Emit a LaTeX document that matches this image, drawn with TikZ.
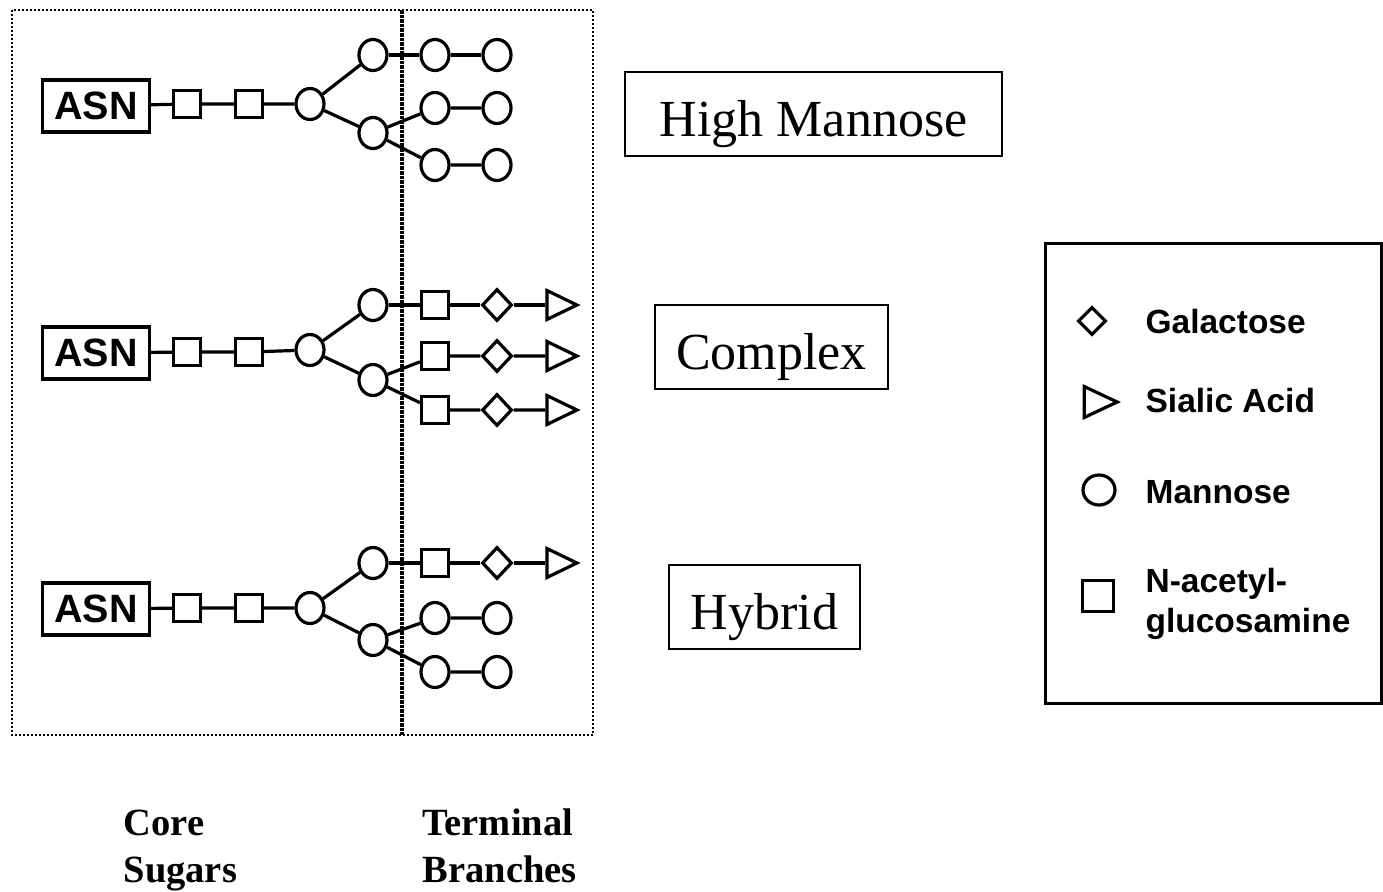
\documentclass[tikz,border=0pt]{standalone}
\usepackage{fontspec}
\setmainfont{Liberation Serif}
\newfontfamily\arialf{Liberation Sans}
\usetikzlibrary{shapes.geometric}
\begin{document}
\begin{tikzpicture}[x=1pt,y=-1pt,
  every node/.style={inner sep=0pt, line width=3.2pt},
  link/.style={line width=3.2pt},
  mann/.style={ellipse, draw, minimum width=28pt, minimum height=31pt},
  glc/.style={rectangle, draw, minimum size=27pt},
  gal/.style={diamond, draw, minimum width=30pt, minimum height=32pt},
  sia/.style={isosceles triangle, isosceles triangle stretches, draw, minimum height=30pt, minimum width=29pt},
  asnbox/.style={rectangle, draw, minimum width=107pt, minimum height=52pt, font=\arialf\bfseries\fontsize{39.5}{40}\selectfont},
  typebox/.style={rectangle, draw, line width=2.6pt, minimum height=84pt, text height=45pt, text depth=0pt, font=\fontsize{52}{56}\selectfont},
  legtext/.style={anchor=west, align=left, font=\arialf\bfseries\fontsize{33.5}{40}\selectfont},
  bottext/.style={anchor=base west, font=\bfseries\fontsize{38.5}{42}\selectfont}]
\useasboundingbox (0,0) rectangle (1383,891);

% frames
\draw[line width=2pt, dotted] (12,10) rectangle (593,735);
\draw[line width=3.6pt, densely dotted] (402,10) -- (402,735);

% ---------- Row 1: High Mannose ----------
\node[asnbox] (asnA) at (96,106) {ASN};
\node[glc] (sA1) at (187,104) {};
\node[glc] (sA2) at (249,104) {};
\node[mann] (mA0) at (310,104) {};
\node[mann] (mAu) at (373,55) {};
\node[mann] (mAl) at (373,133) {};
\node[mann] (tA11) at (435,55) {};
\node[mann] (tA12) at (497,55) {};
\node[mann] (tA21) at (435,108) {};
\node[mann] (tA22) at (497,108) {};
\node[mann] (tA31) at (435,165) {};
\node[mann] (tA32) at (497,165) {};
\draw[link] (asnA) -- (sA1) -- (sA2) -- (mA0);
\draw[link] (mA0) -- (mAu);
\draw[link] (mA0) -- (mAl);
\draw[link] (mAu) -- (tA11) -- (tA12);
\draw[link] (mAl) -- (tA21) -- (tA22);
\draw[link] (mAl) -- (tA31) -- (tA32);

% ---------- Row 2: Complex ----------
\node[asnbox] (asnB) at (96,353) {ASN};
\node[glc] (sB1) at (187,352) {};
\node[glc] (sB2) at (249,352) {};
\node[mann] (mB0) at (310,350) {};
\node[mann] (mBu) at (373,305) {};
\node[mann] (mBl) at (373,380) {};
\node[glc] (tB11) at (435,305) {};
\node[gal] (tB12) at (497,305) {};
\node[sia] (tB13) at (556,305) {};
\node[glc] (tB21) at (435,356) {};
\node[gal] (tB22) at (497,356) {};
\node[sia] (tB23) at (556,356) {};
\node[glc] (tB31) at (435,410) {};
\node[gal] (tB32) at (497,410) {};
\node[sia] (tB33) at (556,410) {};
\draw[link] (asnB) -- (sB1) -- (sB2) -- (mB0);
\draw[link] (mB0) -- (mBu);
\draw[link] (mB0) -- (mBl);
\draw[link] (mBu) -- (tB11) -- (tB12) -- (tB13);
\draw[link] (mBl) -- (tB21) -- (tB22) -- (tB23);
\draw[link] (mBl) -- (tB31) -- (tB32) -- (tB33);

% ---------- Row 3: Hybrid ----------
\node[asnbox] (asnC) at (96,609) {ASN};
\node[glc] (sC1) at (187,608) {};
\node[glc] (sC2) at (249,608) {};
\node[mann] (mC0) at (310,608) {};
\node[mann] (mCu) at (373,563) {};
\node[mann] (mCl) at (373,640) {};
\node[glc] (tC11) at (435,563) {};
\node[gal] (tC12) at (497,563) {};
\node[sia] (tC13) at (556,563) {};
\node[mann] (tC21) at (435,618) {};
\node[mann] (tC22) at (497,618) {};
\node[mann] (tC31) at (435,672) {};
\node[mann] (tC32) at (497,672) {};
\draw[link] (asnC) -- (sC1) -- (sC2) -- (mC0);
\draw[link] (mC0) -- (mCu);
\draw[link] (mC0) -- (mCl);
\draw[link] (mCu) -- (tC11) -- (tC12) -- (tC13);
\draw[link] (mCl) -- (tC21) -- (tC22);
\draw[link] (mCl) -- (tC31) -- (tC32);

% ---------- type labels ----------
\node[typebox, minimum width=377pt] (hm) at (813.5,114) {High Mannose};
\node[typebox, minimum width=233pt] (cx) at (771.5,347) {Complex};
\node[typebox, minimum width=191pt] (hy) at (764.5,607) {Hybrid};

% ---------- legend ----------
\draw[line width=3pt] (1045,243) rectangle (1381,703);
\node[diamond, draw, minimum width=28pt, minimum height=28pt] (lgal) at (1092,321) {};
\node[legtext] (lgalt) at (1144,322) {Galactose};
\node[isosceles triangle, isosceles triangle stretches, draw, minimum height=33pt, minimum width=31pt] (lsia) at (1094,402) {};
\node[legtext] (lsiat) at (1144,401) {Sialic Acid};
\node[ellipse, draw, minimum width=32pt, minimum height=30pt] (lman) at (1099,490) {};
\node[legtext] (lmant) at (1144,492) {Mannose};
\node[rectangle, draw, minimum size=31pt] (lglc) at (1098,596) {};
\node[legtext] (lglct) at (1144,604) {N-acetyl-\\glucosamine};

% ---------- bottom labels ----------
\node[bottext] (core1) at (122,835) {Core};
\node[bottext] (core2) at (122,882) {Sugars};
\node[bottext] (term1) at (421,835) {Terminal};
\node[bottext] (term2) at (421,882) {Branches};
\end{tikzpicture}
\end{document}
